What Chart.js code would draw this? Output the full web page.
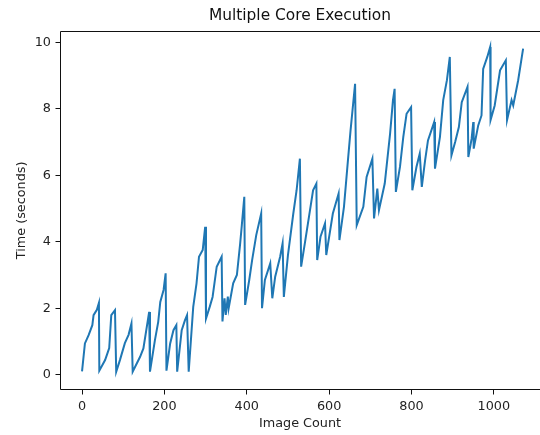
<!DOCTYPE html>
<html>
<head>
<meta charset="utf-8">
<script src="https://cdn.jsdelivr.net/npm/chart.js@4.4.1/dist/chart.umd.min.js"></script>
<style>
  html, body { margin: 0; padding: 0; background: #fff; overflow: hidden; }
  #wrap { width: 540px; height: 435px; }
</style>
</head>
<body>
<div id="wrap"><canvas id="grafico" width="540" height="435"></canvas></div>
<script>
// values
const imageCount = [
  0, 7, 16, 25, 28, 36, 41, 42, 56, 61, 66, 71, 80, 83, 92, 104, 113, 120, 123,
  141, 149, 163, 165, 177, 185, 190, 198, 203, 205, 214, 222, 229, 231, 242, 250,
  255, 259, 270, 278, 284, 293, 299, 301, 310, 317, 327, 339, 341, 346, 349, 354,
  356, 367, 376, 384, 388, 394, 396, 406, 413, 423, 435, 437, 444, 457, 462, 469,
  481, 487, 490, 500, 513, 521, 529, 532, 541, 551, 561, 569, 571, 579, 590, 593,
  609, 623, 625, 636, 646, 652, 663, 667, 683, 691, 705, 709, 717, 721, 735, 748,
  755, 759, 762, 772, 780, 788, 799, 802, 812, 820, 825, 833, 840, 855, 857, 869,
  877, 886, 893, 897, 906, 915, 922, 936, 938, 946, 950, 951, 962, 970, 974, 984,
  991, 992, 1002, 1015, 1029, 1032, 1043, 1047, 1059, 1071
];
const timeSeconds = [
  0.1, 0.94, 1.19, 1.49, 1.79, 1.95, 2.16, 0.12, 0.44, 0.62, 0.8, 1.79, 1.94, 0.09, 0.44, 0.95, 1.2, 1.54, 0.09,
  0.54, 0.79, 1.89, 0.09, 1.04, 1.59, 2.19, 2.55, 3.05, 0.12, 0.94, 1.34, 1.49, 0.09, 1.34, 1.64,
  1.79, 0.09, 2.04, 2.75, 3.55, 3.75, 4.45, 1.69, 2.04, 2.34, 3.25, 3.55, 1.6, 2.3, 1.8, 2.35,
  2.0, 2.75, 3.0, 3.95, 4.5, 5.35, 2.1, 2.85, 3.45, 4.2, 4.85, 2.0, 2.85, 3.35, 2.3, 2.95,
  3.55, 3.95, 2.34, 3.6, 4.85, 5.55, 6.5, 3.25, 3.95, 4.75, 5.55, 5.75, 3.45, 4.15, 4.55, 3.6,
  4.85, 5.45, 4.05, 5.05, 6.5, 7.35, 8.75, 4.5, 5.05, 5.95, 6.5, 4.7, 5.6, 4.95, 5.75, 7.25,
  8.26, 8.6, 5.5, 6.25, 7.15, 7.85, 8.05, 5.55, 6.25, 6.65, 5.65, 6.45, 7.05, 7.6, 6.2, 7.15,
  8.26, 8.86, 9.56, 6.6, 7.0, 7.45, 8.2, 8.66, 6.55, 7.1, 7.6, 6.8, 7.5, 7.8, 9.2, 9.56,
  9.86, 7.66, 8.1, 9.16, 9.46, 7.66, 8.26, 8.1, 8.86, 9.81
];
const xTickValues = [0, 200, 400, 600, 800, 1000];
const yTickValues = [0, 2, 4, 6, 8, 10];

const pontos = imageCount.map((x, i) => ({ x: x, y: timeSeconds[i] }));

Chart.defaults.font.family = 'DejaVu Sans';
Chart.defaults.color = '#222';

// spines: left, top and bottom (the right one falls outside the picture)
const moldura = {
  id: 'moldura',
  afterDraw(chart) {
    const { ctx, chartArea: a } = chart;
    const l = Math.round(a.left) + 0.5, t = Math.round(a.top) + 0.5;
    const b = Math.round(a.bottom) - 0.5, r = chart.width;
    ctx.save();
    ctx.strokeStyle = '#111';
    ctx.lineWidth = 1;
    ctx.beginPath();
    ctx.moveTo(r, t); ctx.lineTo(l, t); ctx.lineTo(l, b); ctx.lineTo(r, b);
    ctx.stroke();
    ctx.restore();
  }
};

const ctx = document.getElementById('grafico').getContext('2d');

new Chart(ctx, {
  type: 'line',
  data: {
    datasets: [{
      data: pontos,
      borderColor: '#1f77b4',
      borderWidth: 2,
      pointRadius: 0,
      tension: 0,
      fill: false
    }]
  },
  options: {
    responsive: false,
    animation: false,
    layout: { padding: 0 },
    plugins: {
      legend: { display: false },
      tooltip: { enabled: false },
      title: {
        display: true,
        fullSize: false,
        text: 'Multiple Core Execution',
        color: '#111',
        font: { size: 15.4, weight: 'normal' },
        padding: { top: 7, bottom: 5.2 }
      }
    },
    scales: {
      x: {
        type: 'linear',
        min: -53.5,
        max: 1112,
        afterFit: s => { s.height = 45; },
        afterBuildTicks: s => { s.ticks = xTickValues.map(v => ({ value: v })); },
        border: { display: false },
        grid: { drawOnChartArea: false, drawTicks: true, tickLength: 4.5, color: '#111' },
        ticks: { padding: 4.5, font: { size: 12.8 }, color: '#222', maxRotation: 0, callback: v => String(v) },
        title: {
          display: true,
          text: 'Image Count',
          color: '#222',
          font: { size: 12.8 },
          padding: { top: 0, bottom: 3.3 }
        }
      },
      y: {
        min: -0.46,
        max: 10.35,
        afterFit: s => { s.width = 60; },
        afterBuildTicks: s => { s.ticks = yTickValues.map(v => ({ value: v })); },
        border: { display: false },
        grid: { drawOnChartArea: false, drawTicks: true, tickLength: 4.5, color: '#111' },
        ticks: { padding: 4.5, font: { size: 12.8 }, color: '#222', callback: v => String(v) },
        title: {
          display: true,
          text: 'Time (seconds)',
          color: '#222',
          font: { size: 12.8 },
          padding: { top: 14.3, bottom: 0 }
        }
      }
    }
  },
  plugins: [moldura]
});
</script>
</body>
</html>
